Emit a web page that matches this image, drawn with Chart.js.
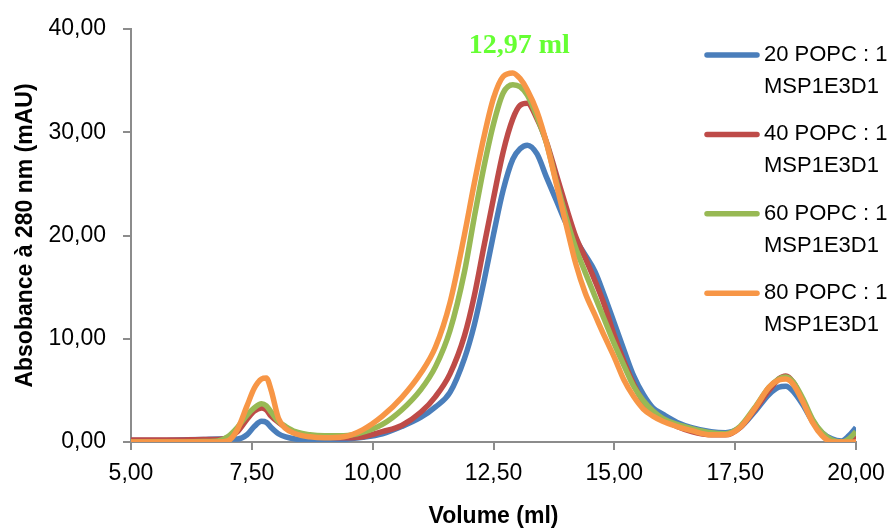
<!DOCTYPE html>
<html>
<head>
<meta charset="utf-8">
<script src="https://cdn.jsdelivr.net/npm/chart.js@4.4.1/dist/chart.umd.min.js"></script>
<style>
  body { margin: 0; background: #fff; }
  #wrap { width: 889px; height: 528px; }
</style>
</head>
<body>
<div id="wrap"><canvas id="myChart" width="889" height="528"></canvas></div>
<script>
// elution volume (ml)
const volume = [5.0, 5.5, 6.0, 6.5, 6.8, 7.0, 7.2, 7.4, 7.55, 7.7, 7.8, 7.9, 8.05, 8.2, 8.4, 8.7, 9.0, 9.4, 9.8,
  10.2, 10.6, 11.0, 11.3, 11.6, 11.9, 12.1, 12.3, 12.5, 12.7, 12.9, 13.05, 13.2, 13.4, 13.6, 13.8, 14.0, 14.2,
  14.4, 14.6, 14.8, 15.0, 15.2, 15.4, 15.6, 15.8, 16.0, 16.3, 16.6, 17.0, 17.3, 17.6, 17.9, 18.2, 18.4, 18.55,
  18.7, 18.9, 19.1, 19.3, 19.5, 19.7, 19.85, 20.0]

// absorbance at 280 nm (mAU)
const popc20 = [0.15, 0.15, 0.2, 0.25, 0.3, 0.3, 0.3, 0.7, 1.5, 2.0, 1.9, 1.4, 0.8, 0.5, 0.3, 0.2, 0.2, 0.25, 0.45,
  0.8, 1.5, 2.4, 3.4, 4.8, 8.1, 11.3, 15.5, 20.1, 24.4, 27.4, 28.4, 28.75, 27.9, 25.6, 23.4, 21.2, 19.6,
  18.1, 16.5, 14.1, 11.5, 8.9, 6.4, 4.6, 3.3, 2.7, 1.9, 1.4, 1.0, 0.9, 1.4, 2.9, 4.6, 5.3, 5.4,
  4.9, 3.6, 2.0, 0.9, 0.3, 0.1, 0.6, 1.4]
const popc40 = [0.2, 0.2, 0.2, 0.25, 0.25, 0.4, 1.0, 2.2, 3.0, 3.3, 3.1, 2.5, 1.9, 1.4, 0.9, 0.6, 0.5, 0.4, 0.5,
  1.0, 1.6, 2.9, 4.4, 6.6, 10.3, 14.1, 18.9, 23.6, 28.1, 31.3, 32.6, 32.8, 31.3, 29.0, 25.9, 22.8, 19.9,
  17.8, 15.6, 13.2, 10.3, 7.8, 5.6, 3.9, 2.9, 2.2, 1.5, 1.0, 0.7, 0.7, 1.4, 3.1, 5.0, 6.1, 6.4,
  5.8, 4.0, 2.1, 0.8, 0.1, 0.0, 0.1, 0.6]
const popc60 = [0.0, 0.0, 0.0, 0.05, 0.1, 0.5, 1.4, 2.6, 3.3, 3.7, 3.5, 2.9, 2.0, 1.5, 1.0, 0.7, 0.6, 0.6, 0.95,
  1.7, 3.1, 5.1, 7.3, 10.8, 16.5, 21.7, 26.6, 30.8, 33.8, 34.6, 34.4, 33.6, 31.5, 28.9, 25.2, 21.8, 18.8,
  16.4, 14.1, 11.8, 9.5, 7.4, 5.4, 4.0, 3.0, 2.3, 1.7, 1.3, 0.9, 0.8, 1.5, 3.3, 5.3, 6.1, 6.3,
  5.8, 4.2, 2.2, 0.9, 0.2, 0.0, 0.3, 1.0]
const popc80 = [0.0, 0.0, 0.0, 0.0, 0.0, 0.1, 1.2, 3.5, 5.2, 6.1, 6.2, 5.0, 2.3, 1.3, 0.8, 0.5, 0.4, 0.5, 1.2,
  2.5, 4.3, 6.7, 9.2, 13.5, 20.1, 25.0, 29.5, 33.3, 35.4, 35.75, 35.2, 34.1, 32.0, 28.9, 25.0, 21.1, 17.3,
  14.4, 12.3, 10.2, 8.2, 6.0, 4.4, 3.2, 2.5, 2.0, 1.5, 1.1, 0.7, 0.7, 1.4, 3.2, 5.3, 6.0, 6.1,
  5.6, 3.9, 1.9, 0.6, 0.0, 0.0, 0.0, 0.0]

const seriesNames = [['20 POPC : 1', 'MSP1E3D1'], ['40 POPC : 1', 'MSP1E3D1'],
  ['60 POPC : 1', 'MSP1E3D1'], ['80 POPC : 1', 'MSP1E3D1']]
const seriesValues = [popc20, popc40, popc60, popc80]
const colors = ['#4a7ebb', '#be4b48', '#98b954', '#f79646']
const xTicks = [5, 7.5, 10, 12.5, 15, 17.5, 20]
const yTicks = [0, 10, 20, 30, 40]
const peakVolume = 12.97
const peakLabel = '12,97 ml'

const font = "'Liberation Sans', Arial, sans-serif"
const axisGrey = '#8c8c8c'
const fmt = v => Number(v).toFixed(2).replace('.', ',')

// legend with two-line labels, drawn on the canvas
const sideLegend = {
  id: 'sideLegend',
  afterDraw(chart) {
    const ctx = chart.ctx
    ctx.save()
    chart.data.datasets.forEach((ds, i) => {
      const y = 55 + i * 79.4
      ctx.strokeStyle = ds.borderColor
      ctx.lineWidth = 5.5
      ctx.lineCap = 'round'
      ctx.beginPath()
      ctx.moveTo(707, y)
      ctx.lineTo(757, y)
      ctx.stroke()
      ctx.fillStyle = '#000'
      ctx.font = `22px ${font}`
      ctx.textBaseline = 'middle'
      ctx.textAlign = 'left'
      ds.label.forEach((t, k) => ctx.fillText(t, 764, y + k * 32))
    })
    // peak annotation
    const x = chart.scales.x.getPixelForValue(peakVolume)
    ctx.fillStyle = '#66ff33'
    ctx.font = "bold 28px 'Liberation Serif', 'Times New Roman', serif"
    ctx.textAlign = 'center'
    ctx.textBaseline = 'middle'
    ctx.fillText(peakLabel, x + 3, 46)
    ctx.restore()
  }
}

const ctx = document.getElementById('myChart').getContext('2d')
const myChart = new Chart(ctx, {
  type: 'line',
  data: {
    datasets: seriesValues.map((vals, i) => ({
      label: seriesNames[i],
      data: volume.map((v, k) => ({ x: v, y: vals[k] })),
      borderColor: colors[i],
      borderWidth: 5.5,
      pointRadius: 0,
      fill: false,
      cubicInterpolationMode: 'monotone',
      order: 4 - i,
    }))
  },
  options: {
    responsive: false,
    animation: false,
    layout: { padding: { top: 29, right: 33, left: 0, bottom: 0 } },
    plugins: { legend: { display: false }, tooltip: { enabled: false } },
    scales: {
      x: {
        type: 'linear',
        min: 5, max: 20,
        afterBuildTicks: s => { s.ticks = xTicks.map(v => ({ value: v })) },
        afterFit: s => { s.height = 86; s.paddingLeft = 0; s.paddingRight = 0 },
        ticks: { color: '#000', font: { family: font, size: 23 }, padding: 10, callback: fmt },
        grid: { drawOnChartArea: false, drawTicks: true, tickLength: 8, color: axisGrey, lineWidth: 2 },
        border: { display: true, color: axisGrey, width: 2 },
        title: { display: true, text: 'Volume (ml)', color: '#000',
          font: { family: font, size: 23, weight: 'bold', lineHeight: 1 }, padding: { top: 0, bottom: 0 } }
      },
      y: {
        min: 0, max: 40,
        afterBuildTicks: s => { s.ticks = yTicks.map(v => ({ value: v })) },
        afterFit: s => { s.width = 131; s.paddingTop = 0; s.paddingBottom = 0 },
        ticks: { color: '#000', font: { family: font, size: 23 }, padding: 17, callback: fmt },
        grid: { drawOnChartArea: false, drawTicks: true, tickLength: 8, color: axisGrey, lineWidth: 2 },
        border: { display: true, color: axisGrey, width: 2 },
        title: { display: true, text: 'Absobance à 280 nm (mAU)', color: '#000',
          font: { family: font, size: 23, weight: 'bold', lineHeight: 1 }, padding: { top: 14, bottom: 0 } }
      }
    }
  },
  plugins: [sideLegend]
})
</script>
</body>
</html>
